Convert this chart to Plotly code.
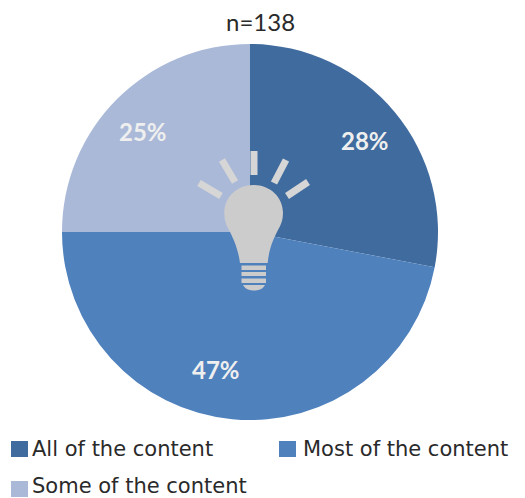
import plotly.graph_objects as go

WIDTH, HEIGHT = 525, 498

categories = ["All of the content", "Most of the content", "Some of the content"]
shares = [28, 47, 25]
colors = ["#406B9E", "#4F81BD", "#AAB9D8"]
sample_label = "n=138"
FONT = "Lato"
LEGEND_FONT = "DejaVu Sans"


def fx(x):
    return x / WIDTH


def fy(y):
    return 1 - y / HEIGHT


def to_path(commands):
    """Build an SVG path in paper units from pixel-based commands."""
    parts = []
    for cmd, pts in commands:
        parts.append(cmd + " ".join(f"{fx(x):.5f},{fy(y):.5f}" for x, y in pts))
    return " ".join(parts) + " Z"


def bar_between(p, q, half):
    """Thin four-sided bar along the segment p-q."""
    dx, dy = q[0] - p[0], q[1] - p[1]
    length = (dx * dx + dy * dy) ** 0.5
    nx, ny = -dy / length * half, dx / length * half
    return to_path([
        ("M", [(p[0] + nx, p[1] + ny)]),
        ("L", [(q[0] + nx, q[1] + ny)]),
        ("L", [(q[0] - nx, q[1] - ny)]),
        ("L", [(p[0] - nx, p[1] - ny)]),
    ])


BULB = "#CCCCCC"
RAY = "#D6D6D6"

bulb_outline = to_path([
    ("M", [(240, 263)]),
    ("C", [(238, 248), (233, 238), (229, 230)]),
    ("C", [(226, 225), (224.3, 220), (224.3, 213)]),
    ("C", [(224.3, 197), (237, 185), (253.5, 185)]),
    ("C", [(270, 185), (283, 197), (283, 213)]),
    ("C", [(283, 220), (281, 225), (278, 230)]),
    ("C", [(274, 238), (269, 248), (267.7, 263)]),
])
cap = to_path([
    ("M", [(243, 285)]),
    ("L", [(265, 285)]),
    ("C", [(262, 290), (258, 290.5), (254, 290.5)]),
    ("C", [(250, 290.5), (246, 290), (243, 285)]),
])
rays = [
    ((199, 183), (221, 196)),
    ((222, 160), (235, 182)),
    ((254, 151), (254, 175)),
    ((286, 160), (274, 183)),
    ((308, 182), (287, 196)),
]

shapes = [
    dict(type="path", path=bulb_outline, xref="paper", yref="paper",
         fillcolor=BULB, line_width=0, layer="above"),
    dict(type="path", path=cap, xref="paper", yref="paper",
         fillcolor=BULB, line_width=0, layer="above"),
]
for top, bottom in [(265.5, 270), (272, 276), (278.5, 283)]:
    shapes.append(dict(type="rect", xref="paper", yref="paper",
                       x0=fx(241.5), x1=fx(266), y0=fy(bottom), y1=fy(top),
                       fillcolor=BULB, line_width=0))
for p, q in rays:
    shapes.append(dict(type="path", path=bar_between(p, q, 3.5),
                       xref="paper", yref="paper",
                       fillcolor=RAY, line_width=0))

TEXT = "#2A2A2A"
# Legend rows: swatch left edge, text left edge, swatch centre, text centre (pixels)
legend_slots = [(11, 30, 449, 449), (279, 301, 449, 449), (11, 30, 489, 485.5)]
annotations = [dict(text=sample_label, x=fx(260), y=fy(22), xref="paper", yref="paper",
                    yanchor="middle", showarrow=False,
                    font=dict(family=FONT, size=24, color=TEXT))]
for name, color, (sx, tx, sy, ty) in zip(categories, colors, legend_slots):
    shapes.append(dict(type="rect", xref="paper", yref="paper",
                       x0=fx(sx), x1=fx(sx + 17), y0=fy(sy + 8), y1=fy(sy - 8),
                       fillcolor=color, line_width=0))
    annotations.append(dict(text=name, x=fx(tx), y=fy(ty), xref="paper", yref="paper",
                            xanchor="left", yanchor="middle", showarrow=False,
                            font=dict(family=LEGEND_FONT, size=21, color=TEXT)))

# Percentage labels sit near the outer part of each slice
label_centres = [(365, 141), (216, 369), (143, 132)]
for value, (lx, ly) in zip(shares, label_centres):
    annotations.append(dict(text=f"{value}%", x=fx(lx), y=fy(ly), xref="paper", yref="paper",
                            xanchor="center", yanchor="middle", showarrow=False,
                            font=dict(family=FONT, size=24, color="#EFEFEF", weight="bold")))

fig = go.Figure(go.Pie(
    labels=categories,
    values=shares,
    sort=False,
    direction="clockwise",
    rotation=0,
    marker=dict(colors=colors, line_width=0),
    textinfo="none",
    domain=dict(x=[fx(62), fx(438)], y=[fy(420), fy(44)]),
    showlegend=False,
    hoverinfo="label+percent",
))
fig.update_layout(
    width=WIDTH, height=HEIGHT, autosize=False,
    margin=dict(l=0, r=0, t=0, b=0),
    paper_bgcolor="white",
    shapes=shapes,
    annotations=annotations,
)
fig.write_html("out.html")
